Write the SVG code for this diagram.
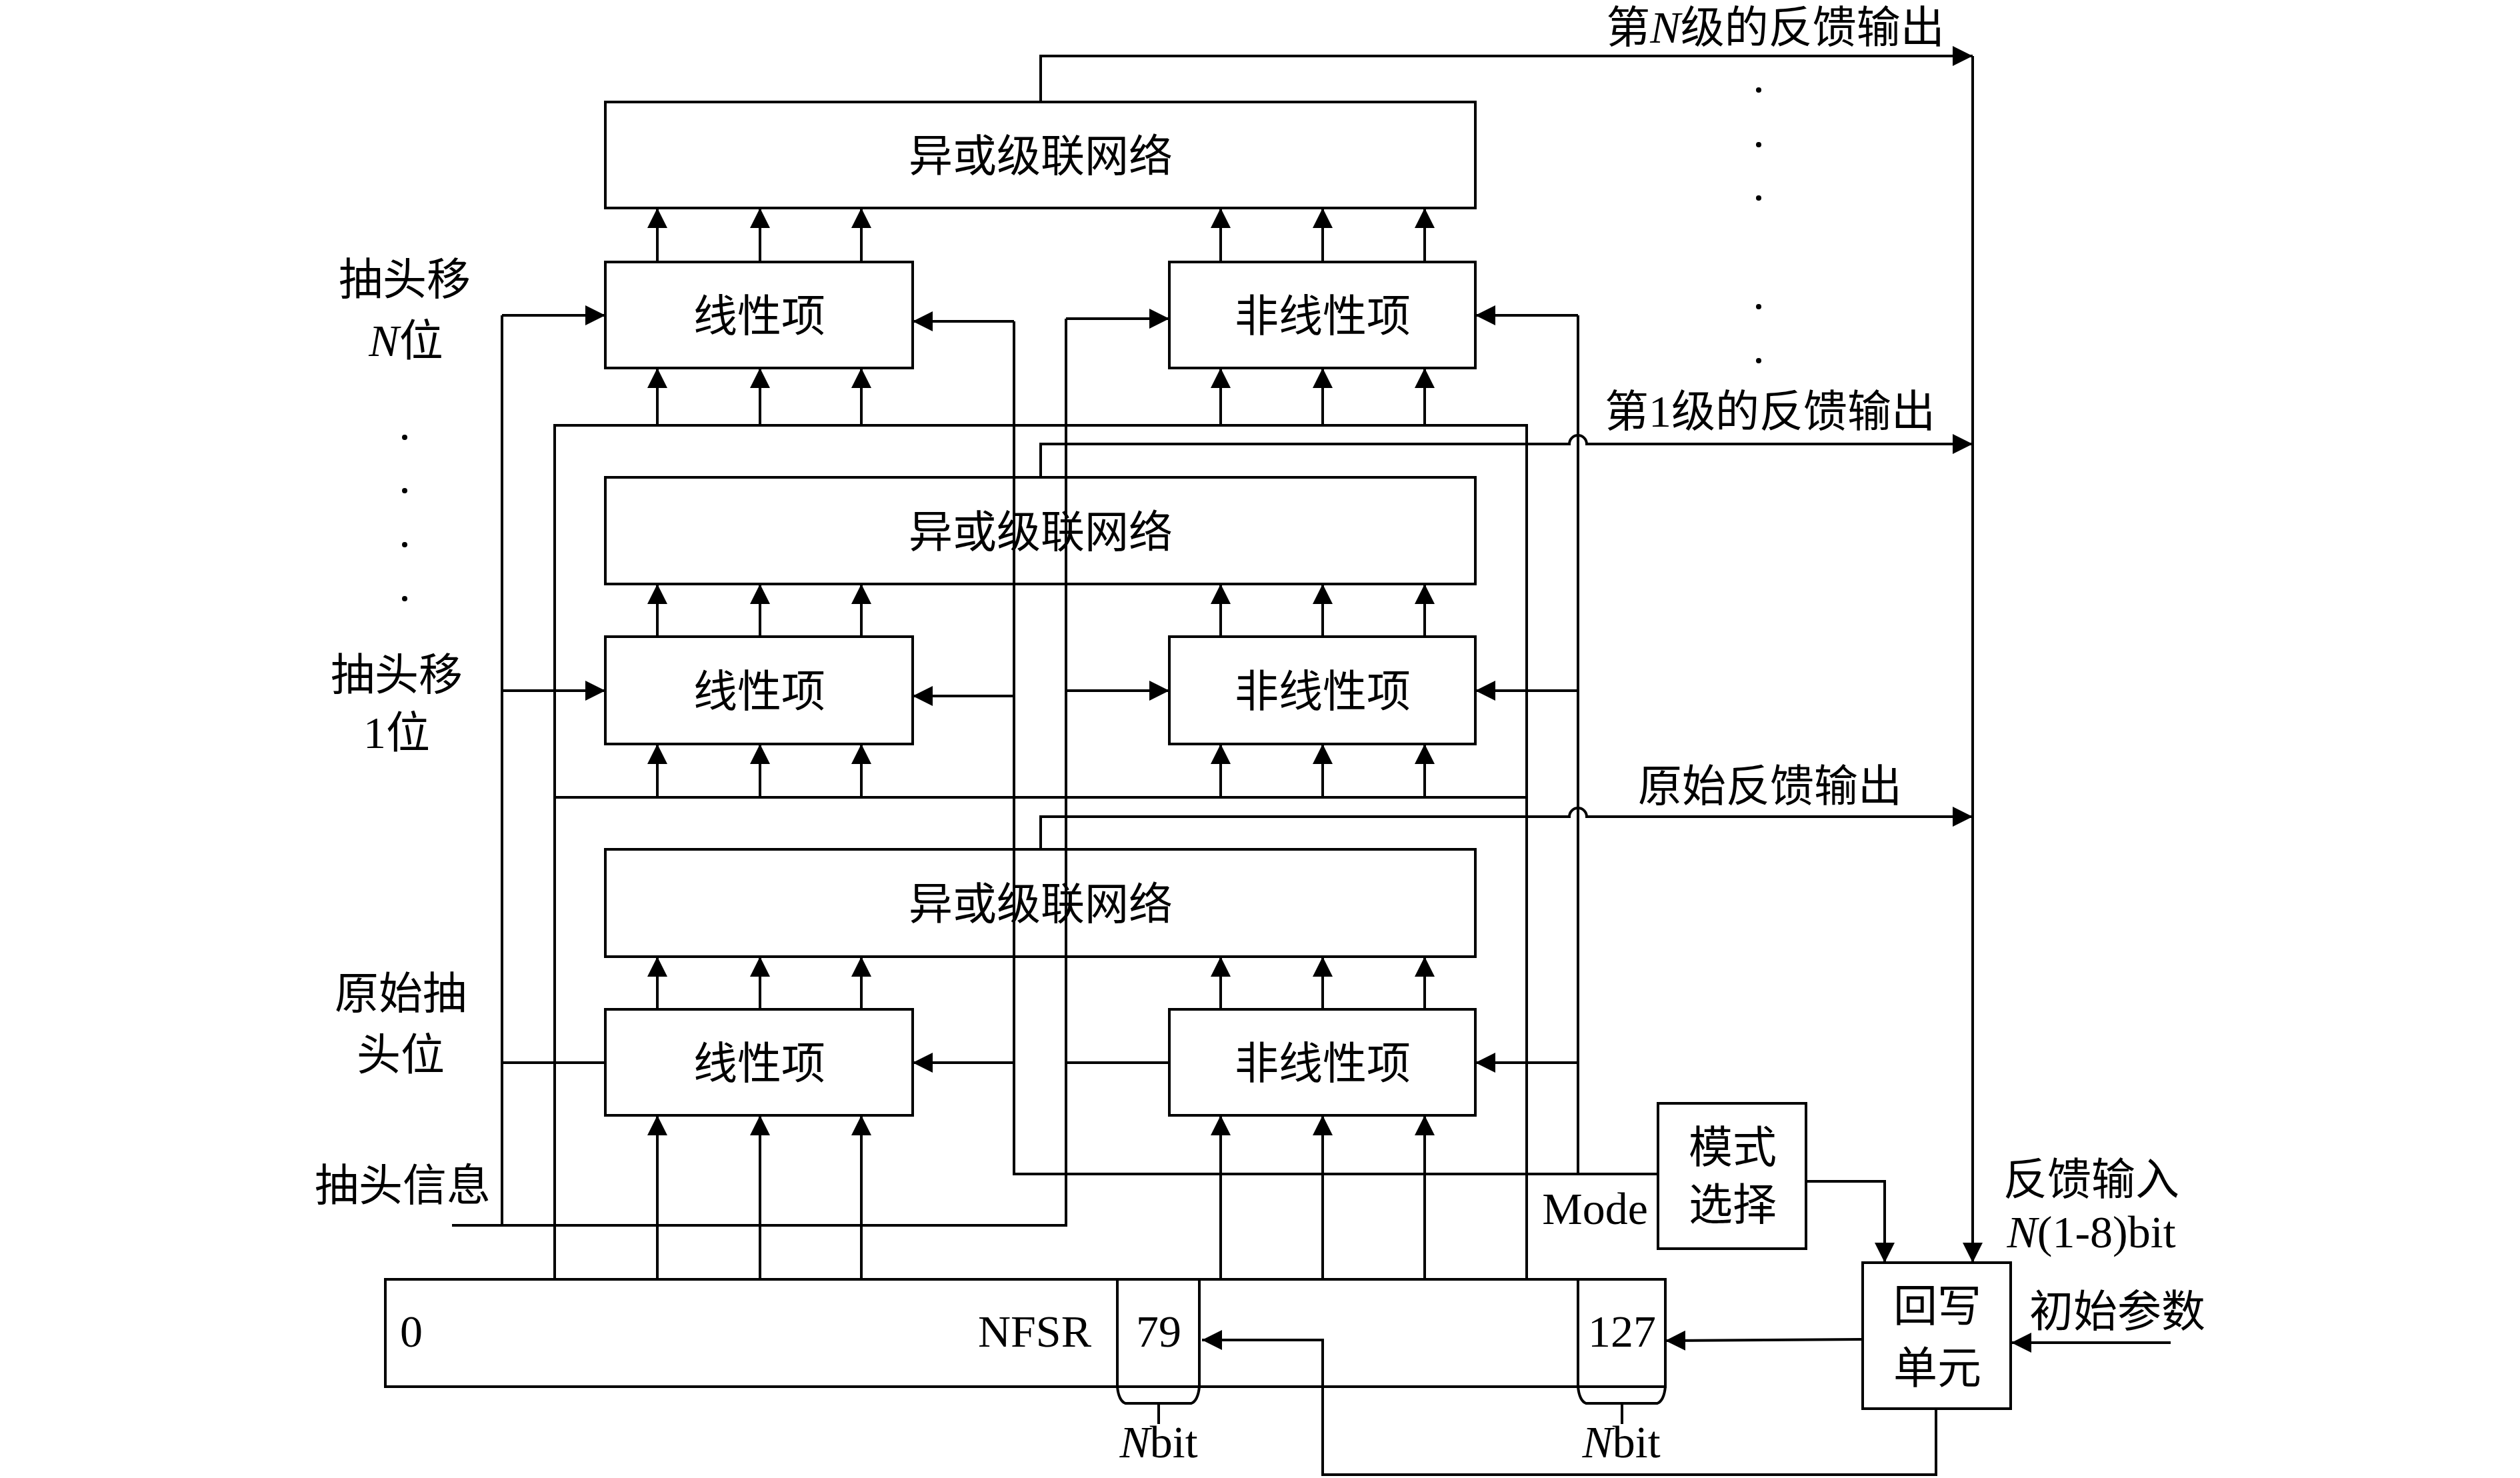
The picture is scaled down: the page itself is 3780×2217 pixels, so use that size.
<svg xmlns="http://www.w3.org/2000/svg" width="3780" height="2217" viewBox="0 0 3780 2217">
<style>
.box{fill:none;stroke:#000;stroke-width:4}
.ln{fill:none;stroke:#000;stroke-width:4}
.ar{fill:none;stroke:#000;stroke-width:4;marker-end:url(#ah)}
.cj{font-family:"Noto Sans CJK SC","Noto Sans CJK JP",sans-serif;font-size:66px;fill:#000}
.la{font-family:"Liberation Serif","DejaVu Serif",serif;font-size:68px;fill:#000}
.it{font-family:"Liberation Serif","DejaVu Serif",serif;font-style:italic}
.rm{font-family:"Liberation Serif","DejaVu Serif",serif}
.dot{fill:#000}
</style>
<defs>
<marker id="ah" viewBox="0 0 30 30" markerWidth="30" markerHeight="30" refX="30" refY="15" orient="auto" markerUnits="userSpaceOnUse"><path d="M0,0 L30,15 L0,30 z" fill="#000"/></marker>
</defs>
<rect width="3780" height="2217" fill="#fff"/>

<g id="connectors">
<!-- up arrows linear/nonlinear to XOR -->
<path class="ar" d="M986,393V312"/><path class="ar" d="M1140,393V312"/><path class="ar" d="M1292,393V312"/>
<path class="ar" d="M1831,393V312"/><path class="ar" d="M1984,393V312"/><path class="ar" d="M2137,393V312"/>
<path class="ar" d="M986,955V876"/><path class="ar" d="M1140,955V876"/><path class="ar" d="M1292,955V876"/>
<path class="ar" d="M1831,955V876"/><path class="ar" d="M1984,955V876"/><path class="ar" d="M2137,955V876"/>
<path class="ar" d="M986,1514V1435"/><path class="ar" d="M1140,1514V1435"/><path class="ar" d="M1292,1514V1435"/>
<path class="ar" d="M1831,1514V1435"/><path class="ar" d="M1984,1514V1435"/><path class="ar" d="M2137,1514V1435"/>
<!-- bus to term boxes -->
<path class="ar" d="M986,638V552"/><path class="ar" d="M1140,638V552"/><path class="ar" d="M1292,638V552"/>
<path class="ar" d="M1831,638V552"/><path class="ar" d="M1984,638V552"/><path class="ar" d="M2137,638V552"/>
<path class="ar" d="M986,1196V1116"/><path class="ar" d="M1140,1196V1116"/><path class="ar" d="M1292,1196V1116"/>
<path class="ar" d="M1831,1196V1116"/><path class="ar" d="M1984,1196V1116"/><path class="ar" d="M2137,1196V1116"/>
<path class="ar" d="M986,1919V1673"/><path class="ar" d="M1140,1919V1673"/><path class="ar" d="M1292,1919V1673"/>
<path class="ar" d="M1831,1919V1673"/><path class="ar" d="M1984,1919V1673"/><path class="ar" d="M2137,1919V1673"/>
<!-- buses -->
<path class="ln" d="M832,1919V638H2290V1919M832,1196H2290"/>
<!-- outputs -->
<path class="ar" d="M1561,153V84H2959"/>
<path class="ar" d="M1561,716V666H2354A13,13 0 0 1 2380,666H2959"/>
<path class="ar" d="M1561,1274V1225H2354A13,13 0 0 1 2380,1225H2959"/>
<path class="ar" d="M2959,84V1894"/>
<!-- tap inputs -->
<path class="ln" d="M753,473V1838M678,1838H1599V478"/>
<path class="ar" d="M753,473H908"/>
<path class="ar" d="M753,1036H908"/>
<path class="ln" d="M753,1594H908"/>
<path class="ar" d="M1599,478H1754"/>
<path class="ar" d="M1599,1036H1754"/>
<path class="ln" d="M1599,1594H1754"/>
<!-- mode lines -->
<path class="ln" d="M2487,1761H1521V482M2367,1761V473"/>
<path class="ar" d="M1521,482H1369"/>
<path class="ar" d="M1521,1044H1369"/>
<path class="ar" d="M1521,1594H1369"/>
<path class="ar" d="M2367,473H2213"/>
<path class="ar" d="M2367,1036H2213"/>
<path class="ar" d="M2367,1594H2213"/>
<path class="ar" d="M2709,1772H2827V1894"/>
<!-- writeback -->
<path class="ar" d="M2794,2009L2498,2011"/>
<path class="ar" d="M3256,2014H3017"/>
<path class="ar" d="M2904,2113V2212H1984V2010H1803"/>
</g>

<g id="xor1"><rect class="box" x="908" y="153" width="1305" height="159"/><text class="cj" x="1561" y="257" text-anchor="middle">异或级联网络</text></g>
<g id="lin1"><rect class="box" x="908" y="393" width="461" height="159"/><text class="cj" x="1139" y="497" text-anchor="middle">线性项</text></g>
<g id="nonlin1"><rect class="box" x="1754" y="393" width="459" height="159"/><text class="cj" x="1984" y="497" text-anchor="middle">非线性项</text></g>
<g id="xor2"><rect class="box" x="908" y="716" width="1305" height="160"/><text class="cj" x="1561" y="821" text-anchor="middle">异或级联网络</text></g>
<g id="lin2"><rect class="box" x="908" y="955" width="461" height="161"/><text class="cj" x="1139" y="1060" text-anchor="middle">线性项</text></g>
<g id="nonlin2"><rect class="box" x="1754" y="955" width="459" height="161"/><text class="cj" x="1984" y="1060" text-anchor="middle">非线性项</text></g>
<g id="xor3"><rect class="box" x="908" y="1274" width="1305" height="161"/><text class="cj" x="1561" y="1379" text-anchor="middle">异或级联网络</text></g>
<g id="lin3"><rect class="box" x="908" y="1514" width="461" height="159"/><text class="cj" x="1139" y="1618" text-anchor="middle">线性项</text></g>
<g id="nonlin3"><rect class="box" x="1754" y="1514" width="459" height="159"/><text class="cj" x="1984" y="1618" text-anchor="middle">非线性项</text></g>

<g id="mode"><rect class="box" x="2487" y="1655" width="222" height="218"/><text class="cj" x="2599" y="1744" text-anchor="middle">模式</text><text class="cj" x="2599" y="1830" text-anchor="middle">选择</text></g>
<g id="writeback"><rect class="box" x="2794" y="1894" width="222" height="219"/><text class="cj" x="2906" y="1982" text-anchor="middle">回写</text><text class="cj" x="2906" y="2075" text-anchor="middle">单元</text></g>

<g id="nfsr">
<rect class="box" x="578" y="1919" width="1920" height="161"/>
<path class="ln" d="M1676,1919V2080M1799,1919V2080M2367,1919V2080"/>
<path class="ln" d="M1676,2080Q1678,2101 1688,2105H1787Q1797,2101 1799,2080M1738,2105V2136"/>
<path class="ln" d="M2367,2080Q2369,2101 2379,2105H2486Q2496,2101 2498,2080M2433,2105V2136"/>
<text class="la" x="617" y="2020" text-anchor="middle">0</text>
<text class="la" x="1637" y="2020" text-anchor="end">NFSR</text>
<text class="la" x="1738" y="2020" text-anchor="middle">79</text>
<text class="la" x="2433" y="2020" text-anchor="middle">127</text>
<text class="la" x="1738" y="2186" text-anchor="middle"><tspan class="it">N</tspan>bit</text>
<text class="la" x="2432" y="2186" text-anchor="middle"><tspan class="it">N</tspan>bit</text>
</g>

<g id="labels">
<text class="cj" x="607" y="442" text-anchor="middle">抽头移</text>
<text class="cj" x="609" y="534" text-anchor="middle"><tspan class="it" font-size="68">N</tspan>位</text>
<text class="cj" x="595" y="1035" text-anchor="middle">抽头移</text>
<text class="cj" x="595" y="1122" text-anchor="middle"><tspan class="rm" font-size="68">1</tspan>位</text>
<text class="cj" x="601" y="1513" text-anchor="middle">原始抽</text>
<text class="cj" x="601" y="1605" text-anchor="middle">头位</text>
<text class="cj" x="604" y="1801" text-anchor="middle">抽头信息</text>
<text class="cj" x="2663" y="64" text-anchor="middle">第<tspan class="it" font-size="68">N</tspan>级的反馈输出</text>
<text class="cj" x="2655" y="640" text-anchor="middle">第<tspan class="rm" font-size="68">1</tspan>级的反馈输出</text>
<text class="cj" x="2655" y="1202" text-anchor="middle">原始反馈输出</text>
<text class="la" x="2472" y="1836" text-anchor="end">Mode</text>
<text class="cj" x="3137" y="1792" text-anchor="middle">反馈输入</text>
<text class="la" x="3137" y="1871" text-anchor="middle"><tspan class="it">N</tspan>(1-8)bit</text>
<text class="cj" x="3176" y="1990" text-anchor="middle">初始参数</text>
</g>
<g id="dots">
<circle class="dot" cx="607" cy="656" r="4"/><circle class="dot" cx="607" cy="736" r="4"/><circle class="dot" cx="607" cy="817" r="4"/><circle class="dot" cx="607" cy="898" r="4"/>
<circle class="dot" cx="2638" cy="135" r="4"/><circle class="dot" cx="2638" cy="217" r="4"/><circle class="dot" cx="2638" cy="297" r="4"/><circle class="dot" cx="2638" cy="460" r="4"/><circle class="dot" cx="2638" cy="541" r="4"/>
</g>
</svg>
